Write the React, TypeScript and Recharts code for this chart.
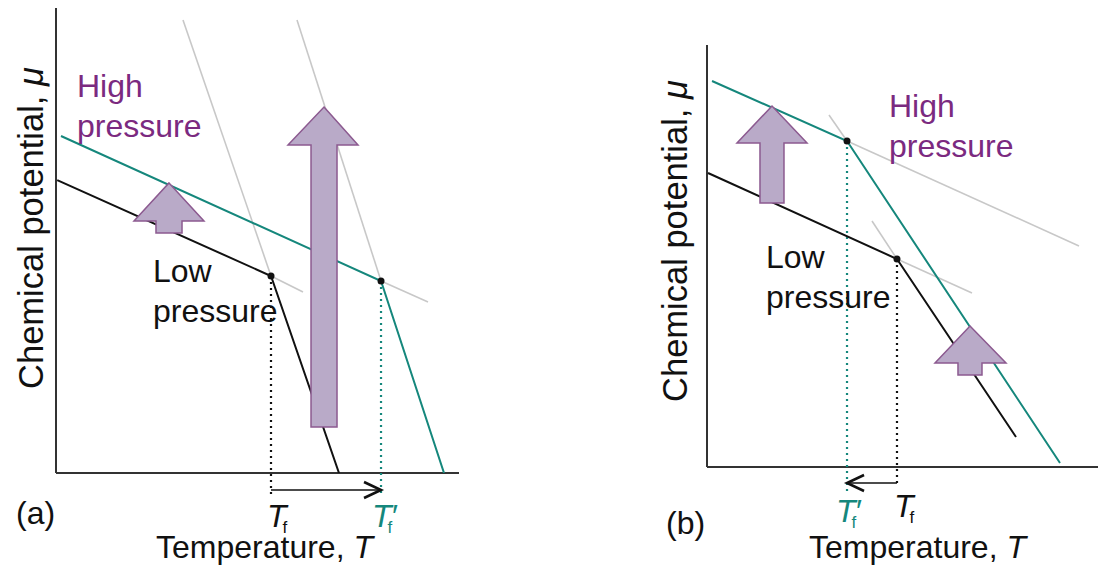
import {
  ComposedChart,
  Line,
  ReferenceArea,
  ReferenceDot,
  ReferenceLine,
  XAxis,
  YAxis,
} from 'recharts'

type Pt = { t: number; mu: number }

const TEAL = '#15877c'
const PURPLE = '#7b2a80'
const ARROW_FILL = '#b9aac8'
const ARROW_STROKE = '#8c5a90'
const GREY = '#c8c8c8'
const INK = '#111'
const AXIS = '#333'
const FONT = '"Liberation Sans", Arial, sans-serif'

// ---- panel (a): pressure raises the melting point
const lowA: Pt[] = [
  { t: 0.3, mu: 63.0 },
  { t: 53.35, mu: 42.37 },
  { t: 70.22, mu: 0 },
]
const highA: Pt[] = [
  { t: 1.24, mu: 72.47 },
  { t: 80.65, mu: 41.29 },
  { t: 96.28, mu: 0 },
]
const greyA: Pt[][] = [
  [{ t: 31.51, mu: 97.42 }, { t: 53.35, mu: 42.37 }],
  [{ t: 53.35, mu: 42.37 }, { t: 61.29, mu: 38.92 }],
  [{ t: 59.8, mu: 97.42 }, { t: 80.65, mu: 41.29 }],
  [{ t: 80.65, mu: 41.29 }, { t: 92.31, mu: 36.77 }],
]
const meltA: Pt[] = [
  { t: 53.35, mu: 42.37 },
  { t: 80.65, mu: 41.29 },
]
const dropA = [-5.38, -4.3]
const shiftA = [53.35, 80.65, -3.66]
const bigArrowA: Pt[] = [
  { t: 66.5, mu: 78.71 },
  { t: 74.94, mu: 70.54 },
  { t: 69.73, mu: 70.54 },
  { t: 69.73, mu: 9.89 },
  { t: 63.28, mu: 9.89 },
  { t: 63.28, mu: 70.54 },
  { t: 57.57, mu: 70.54 },
]
const smallArrowA: Pt[] = [
  { t: 28.04, mu: 62.37 },
  { t: 36.72, mu: 54.19 },
  { t: 31.27, mu: 54.19 },
  { t: 31.27, mu: 51.61 },
  { t: 24.81, mu: 51.61 },
  { t: 24.81, mu: 54.19 },
  { t: 19.35, mu: 54.19 },
]

// ---- panel (b): pressure lowers the melting point
const lowB: Pt[] = [
  { t: 0.26, mu: 69.67 },
  { t: 48.59, mu: 49.29 },
  { t: 79.03, mu: 7.11 },
]
const highB: Pt[] = [
  { t: 1.28, mu: 91.47 },
  { t: 35.81, mu: 77.25 },
  { t: 90.28, mu: 0.95 },
]
const greyB: Pt[][] = [
  [{ t: 31.2, mu: 83.41 }, { t: 35.81, mu: 77.25 }],
  [{ t: 35.81, mu: 77.25 }, { t: 95.14, mu: 52.37 }],
  [{ t: 42.2, mu: 58.29 }, { t: 48.59, mu: 49.29 }],
  [{ t: 48.59, mu: 49.29 }, { t: 67.77, mu: 41.23 }],
]
const meltB: Pt[] = [
  { t: 35.81, mu: 77.25 },
  { t: 48.59, mu: 49.29 },
]
const dropB = [-6.16, -4.74]
const shiftB = [48.59, 35.81, -3.79]
const leftArrowB: Pt[] = [
  { t: 16.62, mu: 85.55 },
  { t: 25.58, mu: 76.78 },
  { t: 19.69, mu: 76.78 },
  { t: 19.69, mu: 62.56 },
  { t: 13.55, mu: 62.56 },
  { t: 13.55, mu: 76.78 },
  { t: 7.67, mu: 76.78 },
]
const rightArrowB: Pt[] = [
  { t: 67.26, mu: 33.41 },
  { t: 76.47, mu: 24.64 },
  { t: 70.33, mu: 24.64 },
  { t: 70.33, mu: 21.8 },
  { t: 64.19, mu: 21.8 },
  { t: 64.19, mu: 24.64 },
  { t: 58.31, mu: 24.64 },
]

// draws a polygon given in data units inside the box that ReferenceArea maps for us
function polygonShape(poly: Pt[]) {
  const t0 = Math.min(...poly.map((p) => p.t))
  const t1 = Math.max(...poly.map((p) => p.t))
  const m0 = Math.min(...poly.map((p) => p.mu))
  const m1 = Math.max(...poly.map((p) => p.mu))
  return (props: any) => {
    const { x, y, width, height } = props
    const pts = poly
      .map((p) => `${x + ((p.t - t0) / (t1 - t0)) * width},${y + ((m1 - p.mu) / (m1 - m0)) * height}`)
      .join(' ')
    return <polygon points={pts} fill={ARROW_FILL} stroke={ARROW_STROKE} strokeWidth={1.5} />
  }
}

const shiftArrow = (props: any) => {
  const { x1, y1, x2, y2 } = props
  const dir = x2 > x1 ? 1 : -1
  return (
    <g>
      <line x1={x1} y1={y1} x2={x2} y2={y2} stroke={INK} strokeWidth={1.6} />
      <polyline
        points={`${x2 - dir * 17},${y2 - 8} ${x2},${y2} ${x2 - dir * 17},${y2 + 8}`}
        fill="none"
        stroke={INK}
        strokeWidth={2.6}
      />
    </g>
  )
}

type Margin = { top: number; left: number; right: number; bottom: number }

function Axes() {
  return [
    <XAxis key="x" type="number" dataKey="t" domain={[0, 100]} allowDataOverflow hide />,
    <YAxis key="y" type="number" domain={[0, 100]} allowDataOverflow hide />,
  ]
}

interface PanelProps {
  margin: Margin
  low: Pt[]
  high: Pt[]
  grey: Pt[][]
  melt: Pt[]
  drops: number[]
  shift: number[]
  arrows: Pt[][]
  dropColors: string[]
}

function Panel({ margin, low, high, grey, melt, drops, shift, arrows, dropColors }: PanelProps) {
  return (
    <>
      <div style={{ position: 'absolute', left: 0, top: 0 }}>
        <ComposedChart width={1099} height={570} margin={margin}>
          {Axes()}
          <ReferenceLine segment={[{ x: 0, y: 0 }, { x: 0, y: 100 }]} stroke={AXIS} strokeWidth={2} ifOverflow="visible" />
          <ReferenceLine segment={[{ x: 0, y: 0 }, { x: 100, y: 0 }]} stroke={AXIS} strokeWidth={2} ifOverflow="visible" />
          {grey.map((seg, i) => (
            <ReferenceLine
              key={`g${i}`}
              segment={[
                { x: seg[0].t, y: seg[0].mu },
                { x: seg[1].t, y: seg[1].mu },
              ]}
              stroke={GREY}
              strokeWidth={1.6}
              ifOverflow="visible"
            />
          ))}
          {melt.map((p, i) => (
            <ReferenceLine
              key={`d${i}`}
              segment={[
                { x: p.t, y: p.mu },
                { x: p.t, y: drops[i] },
              ]}
              stroke={dropColors[i]}
              strokeWidth={2.2}
              strokeDasharray="2 4"
              ifOverflow="visible"
            />
          ))}
          <Line data={low} dataKey="mu" type="linear" stroke={INK} strokeWidth={2} dot={false} isAnimationActive={false} />
          <Line data={high} dataKey="mu" type="linear" stroke={TEAL} strokeWidth={2} dot={false} isAnimationActive={false} />
          <ReferenceLine
            segment={[
              { x: shift[0], y: shift[2] },
              { x: shift[1], y: shift[2] },
            ]}
            shape={shiftArrow}
            ifOverflow="visible"
          />
        </ComposedChart>
      </div>
      {/* second layer on the same scales so the arrows sit above the curves */}
      <div style={{ position: 'absolute', left: 0, top: 0 }}>
        <ComposedChart width={1099} height={570} margin={margin}>
          {Axes()}
          {arrows.map((poly, i) => (
            <ReferenceArea
              key={`a${i}`}
              x1={Math.min(...poly.map((p) => p.t))}
              x2={Math.max(...poly.map((p) => p.t))}
              y1={Math.min(...poly.map((p) => p.mu))}
              y2={Math.max(...poly.map((p) => p.mu))}
              shape={polygonShape(poly)}
              ifOverflow="visible"
            />
          ))}
          {melt.map((p, i) => (
            <ReferenceDot key={`m${i}`} x={p.t} y={p.mu} r={3.5} fill={INK} stroke="none" ifOverflow="visible" />
          ))}
        </ComposedChart>
      </div>
    </>
  )
}

function Tf({ x, y, prime, color }: { x: number; y: number; prime?: boolean; color: string }) {
  return (
    <text x={x} y={y} fill={color} fontSize={32}>
      <tspan fontStyle="italic">T</tspan>
      {prime ? (
        <>
          <tspan fontStyle="italic" dx={-1}>{'\u2032'}</tspan>
          <tspan fontSize={17} dx={-9} dy={6}>f</tspan>
        </>
      ) : (
        <tspan fontSize={17} dx={-4} dy={6}>f</tspan>
      )}
    </text>
  )
}

export default function App() {
  return (
    <div style={{ position: 'absolute', left: 0, top: 0, width: 1099, height: 570, background: '#fff' }}>
      <Panel
        margin={{ top: 8, left: 56, right: 640, bottom: 97 }}
        low={lowA}
        high={highA}
        grey={greyA}
        melt={meltA}
        drops={dropA}
        shift={shiftA}
        arrows={[bigArrowA, smallArrowA]}
        dropColors={[INK, TEAL]}
      />
      <Panel
        margin={{ top: 45, left: 707, right: 1, bottom: 103 }}
        low={lowB}
        high={highB}
        grey={greyB}
        melt={meltB}
        drops={dropB}
        shift={shiftB}
        arrows={[leftArrowB, rightArrowB]}
        dropColors={[TEAL, INK]}
      />
      <svg
        width={1099}
        height={570}
        style={{ position: 'absolute', left: 0, top: 0, pointerEvents: 'none' }}
        fontFamily={FONT}
      >
        {/* panel (a) */}
        <text x={77} y={97} fontSize={32} fill={PURPLE}>High</text>
        <text x={77} y={137} fontSize={32} fill={PURPLE}>pressure</text>
        <text x={153} y={282} fontSize={32} fill={INK}>Low</text>
        <text x={153} y={322} fontSize={32} fill={INK}>pressure</text>
        <text transform="translate(43,228) rotate(-90)" textAnchor="middle" fontSize={34.5} fill={INK}>
          Chemical potential, <tspan fontStyle="italic">μ</tspan>
        </text>
        <text x={16} y={524} fontSize={32} fill={INK}>(a)</text>
        <Tf x={267} y={527} color={INK} />
        <Tf x={372} y={527} prime color={TEAL} />
        <text x={156} y={558} fontSize={32} fill={INK}>
          Temperature, <tspan fontStyle="italic">T</tspan>
        </text>

        {/* panel (b) */}
        <text x={889} y={117} fontSize={32} fill={PURPLE}>High</text>
        <text x={889} y={157} fontSize={32} fill={PURPLE}>pressure</text>
        <text x={766} y={268} fontSize={32} fill={INK}>Low</text>
        <text x={766} y={308} fontSize={32} fill={INK}>pressure</text>
        <text transform="translate(687,241) rotate(-90)" textAnchor="middle" fontSize={34.5} fill={INK}>
          Chemical potential, <tspan fontStyle="italic">μ</tspan>
        </text>
        <text x={666} y={534} fontSize={32} fill={INK}>(b)</text>
        <Tf x={836} y={522} prime color={TEAL} />
        <Tf x={894} y={517} color={INK} />
        <text x={809} y={558} fontSize={32} fill={INK}>
          Temperature, <tspan fontStyle="italic">T</tspan>
        </text>
      </svg>
    </div>
  )
}
